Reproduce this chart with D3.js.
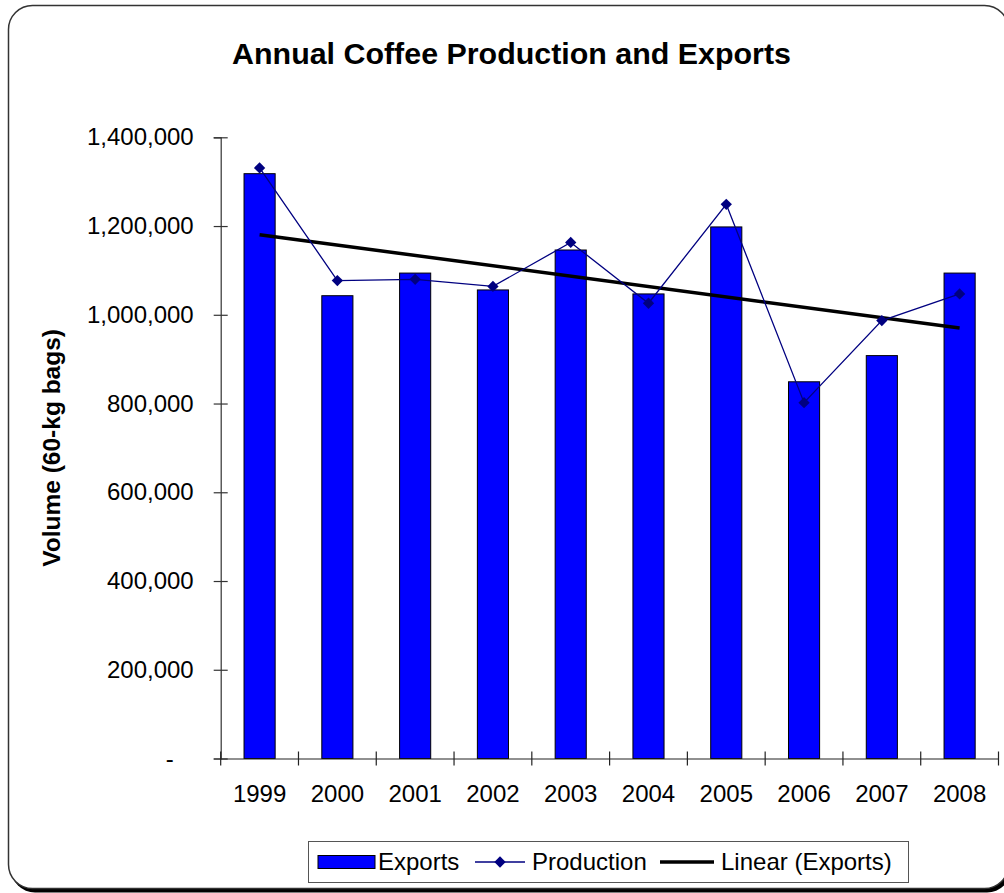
<!DOCTYPE html>
<html>
<head>
<meta charset="utf-8">
<script src="https://cdn.jsdelivr.net/npm/d3@7"></script>
<style>
  html, body { margin: 0; padding: 0; background: #fff; }
  svg { display: block; }
  text { font-family: "Liberation Sans", Arial, sans-serif; fill: #000; }
</style>
</head>
<body>
<svg id="chart" width="1004" height="893"></svg>
<script>
const years = ["1999","2000","2001","2002","2003","2004","2005","2006","2007","2008"];
const exportsVals = [1318000, 1043000, 1094000, 1056000, 1146000, 1047000, 1198000, 849000, 908000, 1094000];
const productionVals = [1331000, 1077000, 1080000, 1064000, 1163000, 1026000, 1249000, 802000, 987000, 1047000];
const yTickVals = [0, 200000, 400000, 600000, 800000, 1000000, 1200000, 1400000];
const titleText = "Annual Coffee Production and Exports";
const yTitleText = "Volume (60-kg bags)";
const legendLabels = ["Exports", "Production", "Linear (Exports)"];

(function () {
const svg = d3.select("#chart");

// outer frame with shadow
svg.append("rect").attr("x", 11).attr("y", 9.5).attr("width", 1000).attr("height", 883)
  .attr("rx", 24).attr("ry", 24).attr("fill", "#000");
svg.append("rect").attr("x", 8.5).attr("y", 5.5).attr("width", 1000).attr("height", 883)
  .attr("rx", 24).attr("ry", 24).attr("fill", "#fff").attr("stroke", "#333").attr("stroke-width", 1.5);

const pLeft = 220.7, pRight = 998.5, pTop = 137.3, pBottom = 758.5;

const x = d3.scaleBand().domain(years).range([pLeft, pRight]).paddingInner(0.6).paddingOuter(0.3);
const y = d3.scaleLinear().domain([0, 1400000]).range([pBottom, pTop]);

// title
svg.append("text").attr("x", 511.5).attr("y", 64).attr("text-anchor", "middle")
  .style("font-size", "30.4px").style("font-weight", "bold").text(titleText);

// y axis title
svg.append("text").attr("transform", `translate(60,${(pTop + pBottom) / 2}) rotate(-90)`)
  .attr("text-anchor", "middle").style("font-size", "24.5px").style("font-weight", "bold")
  .text(yTitleText);

// bars
svg.append("g").selectAll("rect").data(years).join("rect")
  .attr("x", d => x(d)).attr("width", x.bandwidth())
  .attr("y", (d, i) => y(exportsVals[i])).attr("height", (d, i) => y(0) - y(exportsVals[i]))
  .attr("fill", "#0000FF").attr("stroke", "#000").attr("stroke-width", 1);

// y axis
const yAxis = svg.append("g").attr("transform", `translate(${pLeft},0)`)
  .call(d3.axisLeft(y).tickValues(yTickVals).tickSize(7).tickPadding(20)
    .tickFormat(d => d === 0 ? "-" : d3.format(",")(d)));
yAxis.select(".domain").attr("stroke", "#333").attr("stroke-width", 1.2);
yAxis.selectAll(".tick line").attr("x1", 7).attr("x2", -7).attr("stroke", "#333").attr("stroke-width", 1.2);
yAxis.selectAll(".tick text").style("font-size", "24px").style("font-family", "Liberation Sans, Arial, sans-serif").attr("fill", "#000");
yAxis.selectAll(".tick").filter(d => d === 0).select("text").attr("x", -51).attr("text-anchor", "middle");

// x axis
const step = x.step();
const xAxis = svg.append("g").attr("transform", `translate(0,${pBottom})`)
  .call(d3.axisBottom(x).tickSize(0).tickPadding(26));
xAxis.select(".domain").attr("stroke", "#222").attr("stroke-width", 1.2);
xAxis.selectAll(".tick text").style("font-size", "24px").style("font-family", "Liberation Sans, Arial, sans-serif").attr("fill", "#000");
const bounds = years.map(d => x(d) - step * x.paddingInner() / 2);
bounds[0] = pLeft;
bounds.push(pRight);
xAxis.selectAll(".bound").data(bounds).join("line").attr("class", "bound")
  .attr("x1", d => d).attr("x2", d => d).attr("y1", -7).attr("y2", 7)
  .attr("stroke", "#222").attr("stroke-width", 1.2);

// linear trend of exports (least squares)
const n = exportsVals.length;
const mx = d3.mean(d3.range(n)), my = d3.mean(exportsVals);
let sxy = 0, sxx = 0;
exportsVals.forEach((v, i) => { sxy += (i - mx) * (v - my); sxx += (i - mx) * (i - mx); });
const slope = sxy / sxx, icpt = my - slope * mx;
const cx = d => x(d) + x.bandwidth() / 2;
svg.append("line")
  .attr("x1", cx(years[0])).attr("y1", y(icpt))
  .attr("x2", cx(years[n - 1])).attr("y2", y(icpt + slope * (n - 1)))
  .attr("stroke", "#000").attr("stroke-width", 3.5);

// production line
const line = d3.line().x((d, i) => cx(years[i])).y(d => y(d));
svg.append("path").datum(productionVals).attr("d", line)
  .attr("fill", "none").attr("stroke", "#000080").attr("stroke-width", 1.3);
const diamond = d3.symbol().type(d3.symbolSquare).size(64);
svg.append("g").selectAll("path").data(productionVals).join("path")
  .attr("d", diamond())
  .attr("transform", (d, i) => `translate(${cx(years[i])},${y(d)}) rotate(45)`)
  .attr("fill", "#000080");

// legend
const lg = svg.append("g");
lg.append("rect").attr("x", 308.5).attr("y", 841.5).attr("width", 600).attr("height", 41)
  .attr("fill", "#fff").attr("stroke", "#555").attr("stroke-width", 1);
const ly = 862;
lg.append("rect").attr("x", 318).attr("y", ly - 6.5).attr("width", 57).attr("height", 13)
  .attr("fill", "#0000FF").attr("stroke", "#000").attr("stroke-width", 1);
lg.append("text").attr("x", 378).attr("y", ly).attr("dy", "0.35em").style("font-size", "24px").text(legendLabels[0]);
lg.append("line").attr("x1", 475).attr("x2", 525).attr("y1", ly).attr("y2", ly)
  .attr("stroke", "#000080").attr("stroke-width", 1.3);
lg.append("path").attr("d", diamond()).attr("transform", `translate(500,${ly}) rotate(45)`).attr("fill", "#000080");
lg.append("text").attr("x", 532).attr("y", ly).attr("dy", "0.35em").style("font-size", "24px").text(legendLabels[1]);
lg.append("line").attr("x1", 660).attr("x2", 714).attr("y1", ly).attr("y2", ly)
  .attr("stroke", "#000").attr("stroke-width", 3.5);
lg.append("text").attr("x", 721).attr("y", ly).attr("dy", "0.35em").style("font-size", "24px").text(legendLabels[2]);
})();
</script>
</body>
</html>
